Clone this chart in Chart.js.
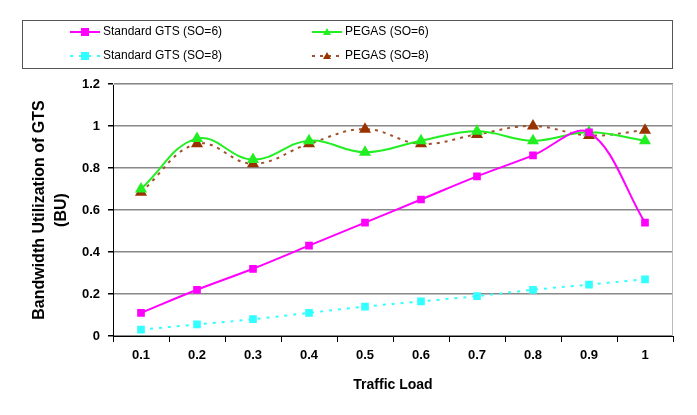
<!DOCTYPE html>
<html>
<head>
<meta charset="utf-8">
<script src="https://cdn.jsdelivr.net/npm/chart.js@4"></script>
<style>
  body { margin: 0; background: #fff; }
  #wrap { width: 697px; height: 415px; position: relative; }
</style>
</head>
<body>
<div id="wrap"><canvas id="chart"></canvas></div>
<script>
const loads = ['0.1', '0.2', '0.3', '0.4', '0.5', '0.6', '0.7', '0.8', '0.9', '1'];
const gts6 = [0.11, 0.22, 0.32, 0.43, 0.54, 0.65, 0.76, 0.86, 0.97, 0.54];
const gts8 = [0.03, 0.055, 0.08, 0.11, 0.14, 0.165, 0.19, 0.22, 0.245, 0.27];
const pegas6 = [0.70, 0.94, 0.84, 0.93, 0.875, 0.93, 0.975, 0.93, 0.97, 0.93];
const pegas8 = [0.685, 0.915, 0.82, 0.915, 0.985, 0.915, 0.96, 1.0, 0.955, 0.98];

const font = 'Arial, "Liberation Sans", sans-serif';

// two-column legend in a box above the plot, like the Excel original
const boxLegend = {
    id: 'boxLegend',
    afterDraw(chart) {
        const ctx = chart.ctx;
        ctx.save();
        ctx.strokeStyle = '#555';
        ctx.lineWidth = 1;
        ctx.strokeRect(22.5, 20.5, 650, 48);
        const cols = [70, 312];
        const rows = [32, 56];
        chart.data.datasets.forEach((ds, di) => {
            const x = cols[di >= 2 ? 1 : 0];
            const y = rows[di % 2];
            ctx.strokeStyle = ds.borderColor;
            ctx.lineWidth = 2;
            ctx.setLineDash(ds.borderDash || []);
            ctx.beginPath();
            ctx.moveTo(x, y);
            ctx.lineTo(x + 30, y);
            ctx.stroke();
            ctx.setLineDash([]);
            ctx.fillStyle = ds.pointBackgroundColor;
            const cx = x + 15;
            if (ds.pointStyle === 'rect') {
                ctx.fillRect(cx - 4, y - 4, 8, 8);
            } else {
                ctx.beginPath();
                ctx.moveTo(cx, y - 4);
                ctx.lineTo(cx + 4, y + 3);
                ctx.lineTo(cx - 4, y + 3);
                ctx.closePath();
                ctx.fill();
            }
            ctx.fillStyle = '#000';
            ctx.font = '12px ' + font;
            ctx.textBaseline = 'middle';
            ctx.fillText(ds.label, x + 33, y);
        });
        // light frame on the right and top of the plot area
        const a = chart.chartArea;
        ctx.strokeStyle = '#bbb';
        ctx.lineWidth = 1;
        ctx.beginPath();
        ctx.moveTo(a.left, a.top + 0.5);
        ctx.lineTo(a.right - 0.5, a.top + 0.5);
        ctx.lineTo(a.right - 0.5, a.bottom);
        ctx.stroke();
        ctx.restore();
    }
};

new Chart(document.getElementById('chart'), {
    type: 'line',
    data: {
        labels: loads,
        datasets: [
            {
                label: 'Standard GTS (SO=6)',
                data: gts6,
                borderColor: '#ff00ff',
                backgroundColor: '#ff00ff',
                pointBackgroundColor: '#ff00ff',
                pointBorderColor: '#ff00ff',
                pointStyle: 'rect',
                pointRadius: 4,
                borderWidth: 2,
                tension: 0.35
            },
            {
                label: 'Standard GTS (SO=8)',
                data: gts8,
                borderColor: '#33ffff',
                backgroundColor: '#33ffff',
                pointBackgroundColor: '#33ffff',
                pointBorderColor: '#33ffff',
                pointStyle: 'rect',
                pointRadius: 4,
                borderWidth: 2,
                borderDash: [3, 6],
                tension: 0.4
            },
            {
                label: 'PEGAS (SO=6)',
                data: pegas6,
                borderColor: '#22ee22',
                backgroundColor: '#22ee22',
                pointBackgroundColor: '#22ee22',
                pointBorderColor: '#22ee22',
                pointStyle: 'triangle',
                pointRadius: 5,
                borderWidth: 2,
                tension: 0.4
            },
            {
                label: 'PEGAS (SO=8)',
                data: pegas8,
                borderColor: '#a0522d',
                backgroundColor: '#993300',
                pointBackgroundColor: '#993300',
                pointBorderColor: '#993300',
                pointStyle: 'triangle',
                pointRadius: 5,
                borderWidth: 2,
                borderDash: [3, 5],
                tension: 0.4
            }
        ]
    },
    options: {
        responsive: true,
        maintainAspectRatio: false,
        animation: false,
        layout: { padding: { top: 84, right: 24, left: 0, bottom: 8 } },
        plugins: {
            legend: { display: false },
            tooltip: { enabled: false }
        },
        scales: {
            x: {
                offset: true,
                grid: {
                    offset: true,
                    drawOnChartArea: false,
                    color: '#000',
                    tickLength: 6
                },
                border: { color: '#000' },
                ticks: {
                    color: '#000',
                    font: { family: font, size: 13, weight: 'bold' },
                    padding: 6
                },
                title: {
                    display: true,
                    text: 'Traffic Load',
                    color: '#000',
                    font: { family: font, size: 14, weight: 'bold' },
                    padding: { top: 4, bottom: 13 }
                },
                afterFit: s => { s.height = 71; }
            },
            y: {
                min: 0,
                max: 1.2,
                ticks: {
                    stepSize: 0.2,
                    color: '#000',
                    font: { family: font, size: 13, weight: 'bold' },
                    padding: 8,
                    callback: v => String(Math.round(v * 10) / 10)
                },
                grid: {
                    color: '#888',
                    tickColor: '#000',
                    tickLength: 5,
                    lineWidth: 1.5
                },
                border: { color: '#000' },
                title: {
                    display: true,
                    text: ['Bandwidth Utilization of GTS', '(BU)'],
                    color: '#000',
                    font: { family: font, size: 16, weight: 'bold', lineHeight: 1.375 },
                    padding: { top: 29, bottom: 4 }
                },
                afterFit: s => { s.width = 113; }
            }
        }
    },
    plugins: [boxLegend]
});
</script>
</body>
</html>
